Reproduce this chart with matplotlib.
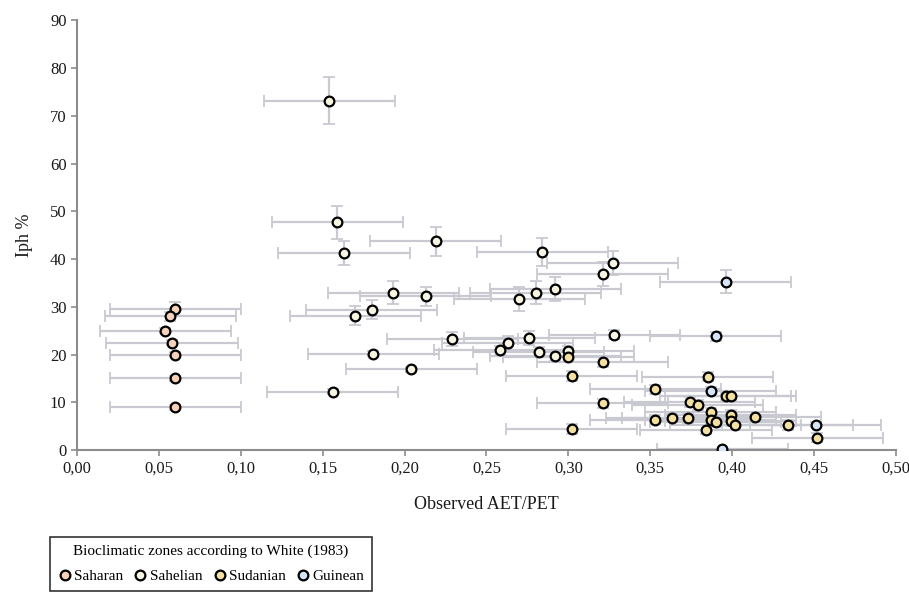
import matplotlib.pyplot as plt
from matplotlib.ticker import FuncFormatter

plt.rcParams['font.family'] = ['Liberation Serif', 'DejaVu Serif']

# Saharan
saharan_x = [0.060, 0.057, 0.054, 0.058, 0.060, 0.060, 0.060]
saharan_y = [29.5, 28.0, 25.0, 22.5, 20.0, 15.0, 9.0]
saharan_xerr = [0.04, 0.04, 0.04, 0.04, 0.04, 0.04, 0.04]
saharan_yerr = [1.5, 1.0, 0.5, 0.5, 0.5, 0.5, 0.5]

# Sahelian
sahelian_x = [0.154, 0.159, 0.219, 0.163, 0.284, 0.327, 0.321, 0.292, 0.280, 0.270,
              0.193, 0.213, 0.180, 0.170, 0.328, 0.229, 0.276, 0.263, 0.258, 0.282,
              0.292, 0.300, 0.181, 0.204, 0.156]
sahelian_y = [73.2, 47.7, 43.7, 41.2, 41.5, 39.1, 36.8, 33.7, 33.0, 31.6,
              33.0, 32.2, 29.4, 28.1, 24.2, 23.2, 23.5, 22.5, 20.9, 20.5,
              19.7, 20.7, 20.2, 16.9, 12.2]
sahelian_xerr = [0.04] * 25
sahelian_yerr = [5.0, 3.5, 3.0, 2.5, 3.0, 2.5, 2.5, 2.5, 2.5, 2.5,
                 2.5, 2.0, 2.0, 2.0, 1.0, 1.5, 1.5, 1.5, 1.0, 1.0,
                 1.0, 1.0, 0.5, 0.5, 0.5]

# Sudanian
sudanian_x = [0.300, 0.321, 0.302, 0.385, 0.353, 0.396, 0.399, 0.321, 0.374, 0.379,
              0.387, 0.399, 0.414, 0.353, 0.363, 0.373, 0.387, 0.390, 0.399, 0.402,
              0.384, 0.434, 0.452, 0.302]
sudanian_y = [19.5, 18.4, 15.5, 15.4, 12.7, 11.4, 11.4, 9.8, 10.1, 9.5,
              7.9, 7.3, 6.9, 6.4, 6.8, 6.7, 6.4, 5.8, 6.0, 5.3,
              4.3, 5.3, 2.6, 4.4]
sudanian_xerr = [0.04] * 24
sudanian_yerr = [1.0] * 24

# Guinean
guinean_x = [0.396, 0.390, 0.387, 0.451, 0.394]
guinean_y = [35.3, 23.8, 12.3, 5.3, 0.3]
guinean_xerr = [0.04, 0.04, 0.04, 0.04, 0.04]
guinean_yerr = [2.5, 1.0, 1.0, 0.5, 0.0]

zones = [
    ('Saharan', saharan_x, saharan_y, saharan_xerr, saharan_yerr, '#f6d2bb'),
    ('Sahelian', sahelian_x, sahelian_y, sahelian_xerr, sahelian_yerr, '#f7f5e2'),
    ('Sudanian', sudanian_x, sudanian_y, sudanian_xerr, sudanian_yerr, '#f4e1a2'),
    ('Guinean', guinean_x, guinean_y, guinean_xerr, guinean_yerr, '#d5e4f6'),
]

fig = plt.figure(figsize=(9.09, 5.97), dpi=100)
ax = fig.add_axes([0.0847, 0.246, 0.901, 0.720])

# error bars first, all behind the markers
for name, x, y, xe, ye, col in zones:
    ax.errorbar(x, y, xerr=xe, yerr=ye, fmt='none', ecolor='#c9c9d2',
                elinewidth=1.6, capsize=4, capthick=1.3, zorder=1)

for name, x, y, xe, ye, col in zones:
    ax.plot(x, y, 'o', markersize=10.5, markerfacecolor=col, markeredgecolor='black',
            markeredgewidth=2.0, linestyle='none', label=name, zorder=3)

ax.set_xlim(0, 0.5)
ax.set_ylim(0, 90)
ax.set_xticks([i * 0.05 for i in range(11)])
ax.set_yticks(range(0, 91, 10))
ax.xaxis.set_major_formatter(FuncFormatter(lambda v, p: f'{v:.2f}'.replace('.', ',')))

for side in ['top', 'right']:
    ax.spines[side].set_visible(False)
for side in ['left', 'bottom']:
    ax.spines[side].set_color('#8c8c8c')
    ax.spines[side].set_linewidth(1.5)
ax.tick_params(colors='#8c8c8c', labelcolor='#1a1a1a', labelsize=12, length=4, width=1.2)

ax.set_xlabel('Observed AET/PET', fontsize=13, color='#1a1a1a', labelpad=14)
ax.set_ylabel('Iph %', fontsize=13, color='#1a1a1a', labelpad=12)

handles, labels = ax.get_legend_handles_labels()
for h in handles:
    h.set_markersize(7)
    h.set_markeredgewidth(1.6)
leg = fig.legend(handles, labels, loc='upper left', bbox_to_anchor=(0.055, 0.1005),
                 borderaxespad=0, ncol=4, fontsize=11,
                 title='Bioclimatic zones according to White (1983)',
                 title_fontsize=11, frameon=True, fancybox=False, edgecolor='black',
                 handletextpad=0.15, columnspacing=0.7, handlelength=0.9,
                 borderpad=0.5, labelspacing=0.2)
leg.get_frame().set_linewidth(1.2)
leg._legend_box.sep = 8

fig.savefig('out.png', dpi=100)
